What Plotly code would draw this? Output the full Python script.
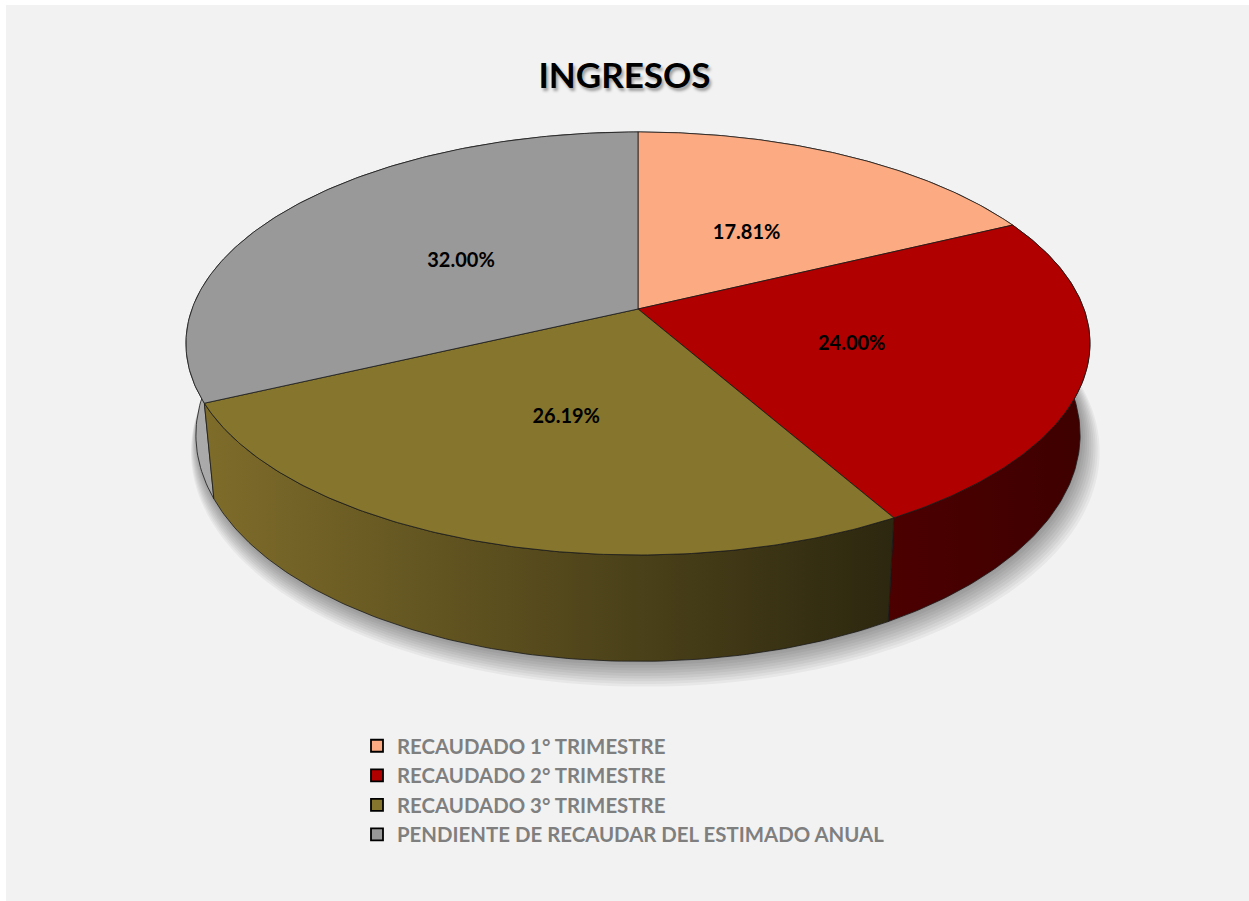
import numpy as np
import plotly.graph_objects as go

categories = ["RECAUDADO 1° TRIMESTRE", "RECAUDADO 2° TRIMESTRE",
              "RECAUDADO 3° TRIMESTRE", "PENDIENTE DE RECAUDAR DEL ESTIMADO ANUAL"]
values = [17.81, 24.00, 26.19, 32.00]
top_colors = ["#FBAA82", "#B00000", "#85752D", "#999999"]
side_colors = [("#F0A07A", "#C07850"), ("#4C0000", "#3E0000"),
               ("#7E6C2A", "#2C270F"), ("#ABABAB", "#8E8E8E")]

# projection geometry (style)
CX, CY = 638, 309
A, B, K = 446, 205.9, 0.163
H, SX = 89, 0.978
LABEL_R, LABEL_DY = 0.49, 5


def proj(theta, r=1.0):
    w = 1 + K * r * np.cos(theta)
    return CX + A * r * np.sin(theta) / w, CY - B * r * np.cos(theta) / w


def proj_bottom(theta, r=1.0, extra=0.0):
    x, y = proj(theta, r)
    w = 1 + K * np.cos(theta)
    return CX + SX * (x - CX), y + (H + extra) / w


total = sum(values)
bounds = np.concatenate([[0], np.cumsum(values)]) / total * 2 * np.pi

fig = go.Figure()

# soft shadow
tt = np.linspace(0, 2 * np.pi, 240)
for i in range(10):
    xs, ys = proj_bottom(tt, 1.0 + 0.003 * i, extra=1 + 1.5 * i)
    xs = xs + 1 + 0.7 * i
    fig.add_trace(go.Scatter(x=xs, y=ys, fill="toself", mode="none",
                             fillcolor="rgba(0,0,0,0.045)", showlegend=False,
                             hoverinfo="skip"))

# side walls, farthest first
order = sorted(range(len(values)),
               key=lambda i: -min(np.cos(np.linspace(bounds[i], bounds[i + 1], 50))))
for i in order:
    t = np.linspace(bounds[i], bounds[i + 1], 120)
    xt, yt = proj(t)
    xb, yb = proj_bottom(t)
    xs = np.concatenate([xt, xb[::-1], xt[:1]])
    ys = np.concatenate([yt, yb[::-1], yt[:1]])
    fig.add_trace(go.Scatter(
        x=xs, y=ys, fill="toself", mode="lines",
        line=dict(color="#1a1a1a", width=0.8),
        fillgradient=dict(type="horizontal",
                          colorscale=[[0, side_colors[i][0]], [1, side_colors[i][1]]]),
        showlegend=False, hoverinfo="skip"))

# top slices
for i in range(len(values)):
    t = np.linspace(bounds[i], bounds[i + 1], 160)
    xt, yt = proj(t)
    xs = np.concatenate([[CX], xt, [CX]])
    ys = np.concatenate([[CY], yt, [CY]])
    fig.add_trace(go.Scatter(
        x=xs, y=ys, fill="toself", mode="lines", fillcolor=top_colors[i],
        line=dict(color="#1a1a1a", width=0.8),
        showlegend=False, hoverinfo="skip"))

# percentage labels
mids = (bounds[:-1] + bounds[1:]) / 2
lx, ly = proj(mids, LABEL_R)
fig.add_trace(go.Scatter(
    x=lx, y=ly + LABEL_DY, mode="text",
    text=[f"{v / total * 100:.2f}%" for v in values],
    textfont=dict(family="Lato", size=20, color="black", weight="bold"),
    showlegend=False, hoverinfo="skip"))

# legend entries
for cat, col in zip(categories, top_colors):
    fig.add_trace(go.Scatter(
        x=[None], y=[None], mode="markers", name=cat,
        marker=dict(symbol="square", size=12, color=col,
                    line=dict(color="black", width=1.8))))

fig.update_layout(
    width=1249, height=901,
    margin=dict(l=6, r=0, t=5, b=0),
    paper_bgcolor="white", plot_bgcolor="#F2F2F2",
    title=dict(text="<b>INGRESOS</b>", x=0.5, xanchor="center",
               y=1 - 76 / 901, yanchor="middle",
               font=dict(family="Lato", size=35, color="black",
                         shadow="2px 3px 3px rgba(0,0,0,0.35)")),
    xaxis=dict(range=[6, 1249], visible=False, fixedrange=True),
    yaxis=dict(range=[901, 5], visible=False, fixedrange=True),
    legend=dict(x=(357 - 6) / 1243, y=(901 - 726) / 896, xanchor="left", yanchor="top",
                bgcolor="rgba(0,0,0,0)",
                font=dict(family="Lato", size=20.4, color="#7F7F7F", weight="bold"),
                itemsizing="trace"),
    showlegend=True,
)

fig.write_html("out.html", config={"displayModeBar": False},
               post_script="document.body.style.margin='0';")
